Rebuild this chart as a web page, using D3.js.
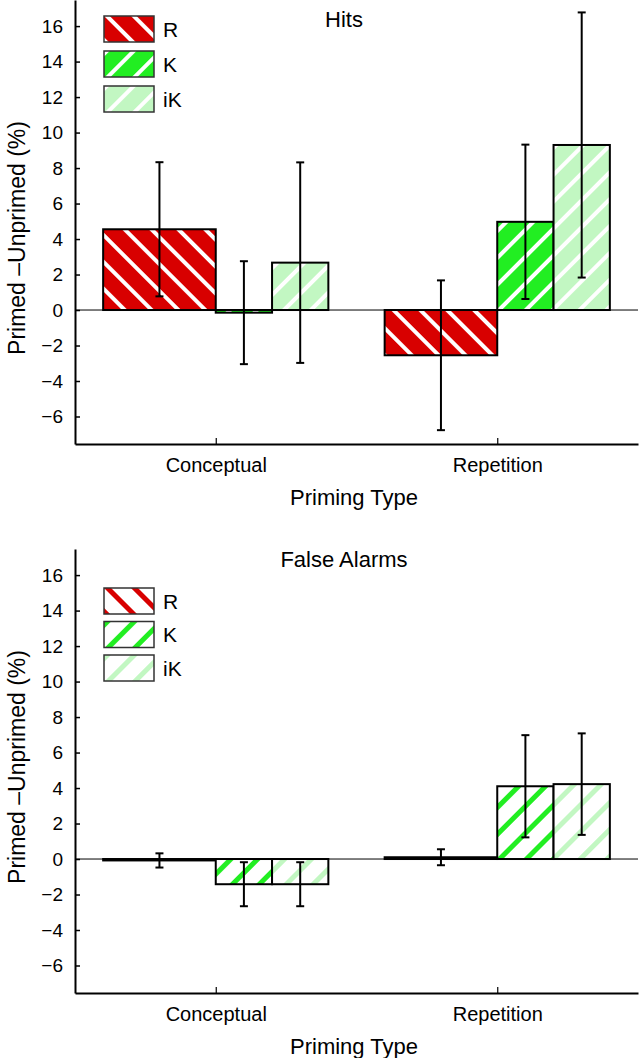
<!DOCTYPE html>
<html>
<head>
<meta charset="utf-8">
<script src="https://cdn.jsdelivr.net/npm/d3@7"></script>
<style>
  body { margin: 0; background: #fff; }
  svg { display: block; font-family: "Liberation Sans", Arial, sans-serif; }
</style>
</head>
<body>
<div id="chart"></div>
<script>
// Data (percent, primed minus unprimed)
const categories = ["Conceptual", "Repetition"];
const seriesNames = ["R", "K", "iK"];
const yTickValues = [-6, -4, -2, 0, 2, 4, 6, 8, 10, 12, 14, 16];

const hitsR = [4.55, -2.55];
const hitsK = [-0.15, 4.97];
const hitsIK = [2.67, 9.3];
const hitsErrR = [3.78, 4.22];
const hitsErrK = [2.9, 4.35];
const hitsErrIK = [5.65, 7.47];

const faR = [-0.08, 0.1];
const faK = [-1.42, 4.1];
const faIK = [-1.42, 4.22];
const faErrR = [0.4, 0.45];
const faErrK = [1.24, 2.88];
const faErrIK = [1.24, 2.86];

const width = 639, height = 1058;
const left = 75, right = 638, plotH = 444;

const svg = d3.select("#chart").append("svg")
    .attr("width", width)
    .attr("height", height);

const defs = svg.append("defs");

// striped fills, "\" for R and "/" for K / iK
function addPattern(id, bg, fg, angle, stripeW) {
    const p = defs.append("pattern")
        .attr("id", id)
        .attr("patternUnits", "userSpaceOnUse")
        .attr("width", 19)
        .attr("height", 19)
        .attr("patternTransform", "rotate(" + angle + ")");
    p.append("rect").attr("width", 19).attr("height", 19).attr("fill", bg);
    p.append("rect").attr("x", 0).attr("width", stripeW).attr("height", 19).attr("fill", fg);
}

const red = "#d80000", green = "#22ee22", light = "#c2f7c2";
addPattern("hitR", red, "#fff", -45, 4);
addPattern("hitK", green, "#fff", 45, 4);
addPattern("hitIK", light, "#fff", 45, 4);
addPattern("faR", "#fff", red, -45, 5);
addPattern("faK", "#fff", green, 45, 5);
addPattern("faIK", "#fff", light, 45, 5);

const x = d3.scaleLinear().domain([0.5, 2.5]).range([left, right]);

// where each series sits inside its category (category units)
const barSpan = {R: [-0.4, 0], K: [0, 0.2], iK: [0.2, 0.4]};

function drawPanel(opt) {
    const g = svg.append("g").attr("transform", "translate(0," + opt.top + ")");
    const y = d3.scaleLinear().domain([-7.55, 17.47]).range([plotH, 0]);

    // zero line
    g.append("line")
        .attr("x1", left).attr("x2", right)
        .attr("y1", y(0)).attr("y2", y(0))
        .attr("stroke", "#000").attr("stroke-width", 1);

    const rows = [];
    seriesNames.forEach((s, si) => {
        opt.values[si].forEach((v, ci) => {
            rows.push({s: s, c: ci + 1, v: v, e: opt.errors[si][ci], fill: opt.fills[si]});
        });
    });

    // bars
    g.selectAll(".bar")
        .data(rows)
        .enter().append("rect")
        .attr("class", "bar")
        .attr("x", d => x(d.c + barSpan[d.s][0]))
        .attr("width", d => x(d.c + barSpan[d.s][1]) - x(d.c + barSpan[d.s][0]))
        .attr("y", d => y(Math.max(0, d.v)))
        .attr("height", d => Math.abs(y(d.v) - y(0)))
        .attr("fill", d => "url(#" + d.fill + ")")
        .attr("stroke", "#000")
        .attr("stroke-width", 2);

    // error bars
    const ex = d => x(d.c + (barSpan[d.s][0] + barSpan[d.s][1]) / 2);
    const err = g.selectAll(".err").data(rows).enter().append("g").attr("class", "err")
        .attr("stroke", "#000").attr("stroke-width", 2);
    err.append("line")
        .attr("x1", ex).attr("x2", ex)
        .attr("y1", d => y(d.v + d.e)).attr("y2", d => y(d.v - d.e));
    err.append("line")
        .attr("x1", d => ex(d) - 4).attr("x2", d => ex(d) + 4)
        .attr("y1", d => y(d.v + d.e)).attr("y2", d => y(d.v + d.e));
    err.append("line")
        .attr("x1", d => ex(d) - 4).attr("x2", d => ex(d) + 4)
        .attr("y1", d => y(d.v - d.e)).attr("y2", d => y(d.v - d.e));

    // y axis
    const ya = g.append("g")
        .attr("transform", "translate(" + left + ",0)")
        .call(d3.axisLeft(y).tickValues(yTickValues).tickSize(-5).tickSizeOuter(0).tickPadding(12));
    ya.select(".domain").attr("stroke-width", 2);
    ya.selectAll(".tick line").attr("stroke-width", 1.5);
    ya.selectAll(".tick text").attr("font-size", 19).attr("fill", "#000")
        .attr("font-family", "Liberation Sans, Arial, sans-serif");

    // x axis
    const xa = g.append("g")
        .attr("transform", "translate(0," + plotH + ")")
        .call(d3.axisBottom(x).tickValues([1, 2]).tickSize(-6).tickSizeOuter(0)
            .tickFormat(i => categories[i - 1]));
    xa.select(".domain").attr("stroke-width", 2);
    xa.selectAll(".tick line").attr("stroke-width", 1.2);
    xa.selectAll(".tick text").attr("font-size", 20).attr("fill", "#000")
        .attr("font-family", "Liberation Sans, Arial, sans-serif")
        .attr("dy", null).attr("y", 28);

    // title
    g.append("text")
        .attr("x", 344).attr("y", opt.titleY)
        .attr("text-anchor", "middle")
        .attr("font-size", 22).attr("fill", "#000")
        .text(opt.title);

    // axis labels
    g.append("text")
        .attr("x", 354).attr("y", 505)
        .attr("text-anchor", "middle")
        .attr("font-size", 22).attr("fill", "#000")
        .text("Priming Type");

    g.append("text")
        .attr("transform", "translate(25," + opt.ylabelY + ") rotate(-90)")
        .attr("text-anchor", "middle")
        .attr("font-size", 23).attr("fill", "#000")
        .text("Primed –Unprimed (%)");

    // legend
    const leg = g.selectAll(".leg").data(seriesNames).enter().append("g")
        .attr("class", "leg")
        .attr("transform", (d, i) => "translate(104," + (opt.legendY + i * opt.legendStep) + ")");
    leg.append("rect")
        .attr("width", 50).attr("height", 26)
        .attr("fill", (d, i) => "url(#" + opt.fills[i] + ")")
        .attr("stroke", "#333").attr("stroke-width", 1.5);
    leg.append("text")
        .attr("x", 59).attr("y", 13).attr("dy", "0.36em")
        .attr("font-size", 21).attr("fill", "#000")
        .text(d => d);
}

drawPanel({
    top: 0,
    title: "Hits", titleY: 27,
    values: [hitsR, hitsK, hitsIK],
    errors: [hitsErrR, hitsErrK, hitsErrIK],
    fills: ["hitR", "hitK", "hitIK"],
    legendY: 16, legendStep: 35,
    ylabelY: 238
});

drawPanel({
    top: 549,
    title: "False Alarms", titleY: 17.5,
    values: [faR, faK, faIK],
    errors: [faErrR, faErrK, faErrIK],
    fills: ["faR", "faK", "faIK"],
    legendY: 39, legendStep: 33.5,
    ylabelY: 218
});
</script>
</body>
</html>
